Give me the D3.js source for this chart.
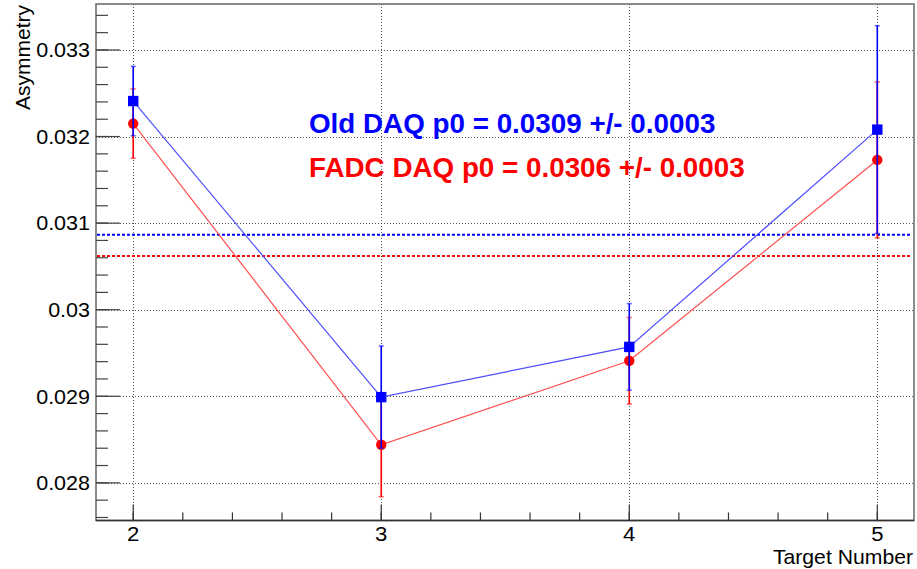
<!DOCTYPE html>
<html>
<head>
<meta charset="utf-8">
<script src="https://cdn.jsdelivr.net/npm/d3@7"></script>
<style>
  html, body { margin: 0; padding: 0; background: #fff; }
  svg { display: block; }
  text { font-family: "Liberation Sans", Arial, Helvetica, sans-serif; }
</style>
</head>
<body>
<svg id="chart" width="917" height="569"></svg>
<script>
// ---------- data ----------
const targets = [2, 3, 4, 5];
const oldDAQ = [0.03241, 0.02899, 0.02957, 0.03208];
const oldDAQErr = [0.00040, 0.00059, 0.00050, 0.00120];
const fadcDAQ = [0.03215, 0.02844, 0.02941, 0.03173];
const fadcDAQErr = [0.00040, 0.00060, 0.00050, 0.00090];
const fitOld = 0.030867;
const fitFADC = 0.030621;
const xTicks = [2, 3, 4, 5];
const yTicks = [0.028, 0.029, 0.030, 0.031, 0.032, 0.033];
const yTickLabels = ["0.028", "0.029", "0.03", "0.031", "0.032", "0.033"];
const labelOld = "Old DAQ p0 = 0.0309 +/- 0.0003";
const labelFADC = "FADC DAQ p0 = 0.0306 +/- 0.0003";

// ---------- layout ----------
const L = 96, R = 914, T = 4, B = 520.5;
const svg = d3.select("#chart");
const x = d3.scaleLinear().domain([1.85, 5.148]).range([L, R]);
const y = d3.scaleLinear().domain([0.027565, 0.033531]).range([B, T]);

// grid
const grid = svg.append("g").attr("stroke", "#555").attr("stroke-width", 1)
  .attr("stroke-dasharray", "1,2");
grid.selectAll("line.gx").data(xTicks).join("line")
  .attr("x1", d => Math.round(x(d)) + 0.5).attr("x2", d => Math.round(x(d)) + 0.5)
  .attr("y1", T).attr("y2", B);
grid.selectAll("line.gy").data(yTicks).join("line")
  .attr("y1", d => Math.round(y(d)) + 0.5).attr("y2", d => Math.round(y(d)) + 0.5)
  .attr("x1", L).attr("x2", R);

// frame
svg.append("rect").attr("x", L).attr("y", T).attr("width", R - L).attr("height", B - T)
  .attr("fill", "none").attr("stroke", "#666").attr("stroke-width", 1.5);

// x axis (ticks inward)
const xMinor = d3.range(1.8, 5.2001, 0.2).filter(v => v >= 1.85 && v <= 5.148);
const gx = svg.append("g").attr("stroke", "#333").attr("stroke-width", 1.2);
gx.selectAll("line.mi").data(xMinor).join("line")
  .attr("x1", d => x(d)).attr("x2", d => x(d)).attr("y1", B).attr("y2", B - 8);
gx.selectAll("line.ma").data(xTicks).join("line")
  .attr("x1", d => x(d)).attr("x2", d => x(d)).attr("y1", B).attr("y2", B - 16);
svg.append("line").attr("x1", L).attr("x2", R).attr("y1", B).attr("y2", B)
  .attr("stroke", "#333").attr("stroke-width", 1.5);
svg.selectAll("text.xt").data(xTicks).join("text")
  .attr("transform", d => `translate(${x(d)},540.5) scale(1.08,1)`)
  .attr("text-anchor", "middle").attr("font-size", 20.5).attr("fill", "#000")
  .text(d => d);
svg.append("text").attr("transform", "translate(913,564) scale(1.06,1)")
  .attr("text-anchor", "end").attr("font-size", 20).text("Target Number");

// y axis
const yMinor = d3.range(0.0274, 0.0336, 0.0002).filter(v => y(v) <= B && y(v) >= T);
const gy = svg.append("g").attr("stroke", "#444").attr("stroke-width", 1.2);
gy.selectAll("line.mi").data(yMinor).join("line")
  .attr("x1", L).attr("x2", L + 12).attr("y1", d => y(d)).attr("y2", d => y(d));
gy.selectAll("line.ma").data(yTicks).join("line")
  .attr("x1", L).attr("x2", L + 24).attr("y1", d => y(d)).attr("y2", d => y(d));
svg.selectAll("text.yt").data(yTicks).join("text")
  .attr("transform", d => `translate(90,${y(d) + 7.3}) scale(1.05,1)`)
  .attr("text-anchor", "end").attr("font-size", 20.5).attr("fill", "#000")
  .text((d, i) => yTickLabels[i]);
svg.append("text").attr("transform", "translate(29.5,5) rotate(-90)")
  .attr("text-anchor", "end").attr("font-size", 21).text("Asymmetry");

// fit lines
function fitLine(v, color) {
  svg.append("line").attr("x1", L + 1).attr("x2", R - 4)
    .attr("y1", y(v)).attr("y2", y(v))
    .attr("stroke", color).attr("stroke-width", 2).attr("stroke-dasharray", "3,2");
}
fitLine(fitOld, "#0000ff");
fitLine(fitFADC, "#ff0000");

// series
function series(vals, errs, color, lineColor) {
  const g = svg.append("g");
  const pts = targets.map((t, i) => ({ t, v: vals[i], e: errs[i] }));
  g.append("path").datum(pts)
    .attr("d", d3.line().x(d => x(d.t)).y(d => y(d.v)))
    .attr("fill", "none").attr("stroke", lineColor).attr("stroke-width", 1.2);
  g.selectAll("line.eb").data(pts).join("line")
    .attr("x1", d => x(d.t)).attr("x2", d => x(d.t))
    .attr("y1", d => y(d.v - d.e)).attr("y2", d => y(d.v + d.e))
    .attr("stroke", color).attr("stroke-width", 1.6);
  ["lo", "hi"].forEach(k => {
    g.selectAll("line.cap" + k).data(pts).join("line")
      .attr("x1", d => x(d.t) - 2.5).attr("x2", d => x(d.t) + 2.5)
      .attr("y1", d => y(k === "lo" ? d.v - d.e : d.v + d.e))
      .attr("y2", d => y(k === "lo" ? d.v - d.e : d.v + d.e))
      .attr("stroke", color).attr("stroke-width", 1.6).attr("opacity", 0.6);
  });
  return { g, pts };
}
const red = series(fadcDAQ, fadcDAQErr, "#ff0000", "#ff4d4d");
const blue = series(oldDAQ, oldDAQErr, "#0000ff", "#4d4dff");
red.g.selectAll("circle").data(red.pts).join("circle")
  .attr("cx", d => x(d.t)).attr("cy", d => y(d.v)).attr("r", 5.2).attr("fill", "#ff0000");
blue.g.selectAll("rect").data(blue.pts).join("rect")
  .attr("x", d => x(d.t) - 5.2).attr("y", d => y(d.v) - 5.2)
  .attr("width", 10.4).attr("height", 10.4).attr("fill", "#0000ff");

// labels
svg.append("text").attr("x", 309).attr("y", 132.5).attr("font-size", 27.8)
  .attr("font-weight", "bold").attr("fill", "#0000ff").text(labelOld);
svg.append("text").attr("x", 309).attr("y", 177).attr("font-size", 27.8)
  .attr("font-weight", "bold").attr("fill", "#ff0000").text(labelFADC);
</script>
</body>
</html>
